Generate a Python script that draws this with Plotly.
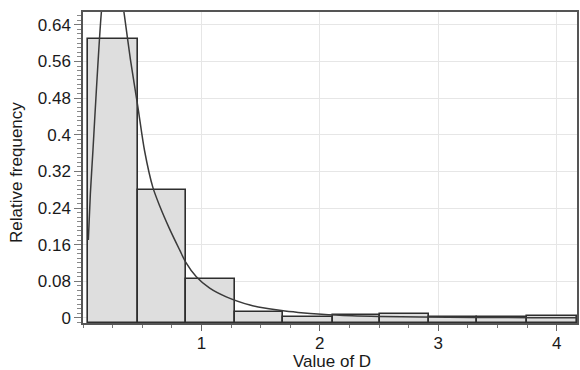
import plotly.graph_objects as go

# Histogram bins (edges) and relative frequencies
bin_edges = [0.041, 0.464, 0.867, 1.28, 1.685, 2.11, 2.51, 2.92, 3.33, 3.75, 4.17]
rel_freq = [0.61, 0.28, 0.085, 0.014, 0.002, 0.007, 0.0085, 0.002, 0.001, 0.005]

# Fitted density curve (scaled to relative frequency)
curve_x = [0.045, 0.062, 0.084, 0.098, 0.125, 0.155, 0.19, 0.23, 0.27, 0.31, 0.35, 0.40,
           0.464, 0.52, 0.59, 0.647, 0.73, 0.817, 0.867, 0.957, 1.07, 1.21, 1.41, 1.48,
           1.676, 1.817, 2.015, 2.27, 2.5, 2.85, 3.3, 3.8, 4.17]
curve_y = [0.17, 0.27, 0.366, 0.43, 0.55, 0.667, 0.75, 0.78, 0.77, 0.73, 0.66, 0.565,
           0.46, 0.365, 0.285, 0.245, 0.195, 0.148, 0.122, 0.090, 0.065, 0.046, 0.028, 0.024,
           0.016, 0.012, 0.0078, 0.0045, 0.003, 0.002, 0.001, 0.0005, 0.0003]

y_ticks = [0, 0.08, 0.16, 0.24, 0.32, 0.4, 0.48, 0.56, 0.64]
y_tick_text = ["0", "0.08", "0.16", "0.24", "0.32", "0.4", "0.48", "0.56", "0.64"]
x_ticks = [1, 2, 3, 4]
x_tick_text = ["1", "2", "3", "4"]

Y_MIN, Y_MAX = -0.0111, 0.668
X_MIN, X_MAX = 0.0, 4.172

centers = [(a + b) / 2 for a, b in zip(bin_edges[:-1], bin_edges[1:])]
widths = [b - a for a, b in zip(bin_edges[:-1], bin_edges[1:])]

fig = go.Figure()
fig.add_trace(go.Bar(
    x=centers, y=[v - Y_MIN for v in rel_freq], base=Y_MIN, width=widths,
    marker=dict(color="#dedede", line=dict(color="#2e2e2e", width=1.6)),
    hoverinfo="skip", showlegend=False,
))
fig.add_trace(go.Scatter(
    x=curve_x, y=curve_y, mode="lines",
    line=dict(color="#3a3a3a", width=1.5, shape="spline", smoothing=0.8),
    showlegend=False,
))

font = "Liberation Sans, Arial, sans-serif"
L, R, T, B = 83, 3, 12, 47
W, H = 580, 370
pw, ph = W - L - R, H - T - B

fig.update_layout(
    width=W, height=H,
    margin=dict(l=L, r=R, t=T, b=B),
    paper_bgcolor="white", plot_bgcolor="white",
    font=dict(family=font, size=17, color="#1a1a1a"),
    bargap=0,
)
fig.update_xaxes(
    range=[X_MIN, X_MAX], tickmode="array", tickvals=x_ticks, ticktext=x_tick_text,
    showgrid=True, gridcolor="#e6e6e6", gridwidth=1, zeroline=False,
    showline=True, linecolor="#555555", linewidth=1.5, mirror=True,
    ticks="outside", ticklen=6, tickcolor="#666666",
    minor=dict(tickmode="linear", tick0=0, dtick=0.25, ticks="outside", ticklen=3,
               tickcolor="#777777", showgrid=False),
    tickfont=dict(size=17), automargin=False, ticklabelstandoff=-2,
)
fig.update_yaxes(
    range=[Y_MIN, Y_MAX], tickmode="array", tickvals=y_ticks, ticktext=y_tick_text,
    showgrid=True, gridcolor="#e6e6e6", gridwidth=1, zeroline=False,
    showline=True, linecolor="#555555", linewidth=1.5, mirror=True,
    ticks="outside", ticklen=7, tickcolor="#777777",
    minor=dict(tickmode="linear", tick0=0, dtick=0.01, ticks="outside", ticklen=4,
               tickcolor="#888888", showgrid=False),
    tickfont=dict(size=17), automargin=False,
)

fig.add_annotation(
    text="Value of D", xref="paper", yref="paper",
    x=(332 - L) / pw, y=(H - B - 361) / ph, xanchor="center", yanchor="middle",
    showarrow=False, font=dict(size=17),
)
fig.add_annotation(
    text="Relative frequency", xref="paper", yref="paper",
    x=(17 - L) / pw, y=(H - B - 173) / ph, xanchor="center", yanchor="middle",
    textangle=-90, showarrow=False, font=dict(size=17),
)

fig.write_html(
    "out.html",
    config={"displayModeBar": False},
    post_script="document.body.style.margin='0';document.body.style.padding='0';",
)
